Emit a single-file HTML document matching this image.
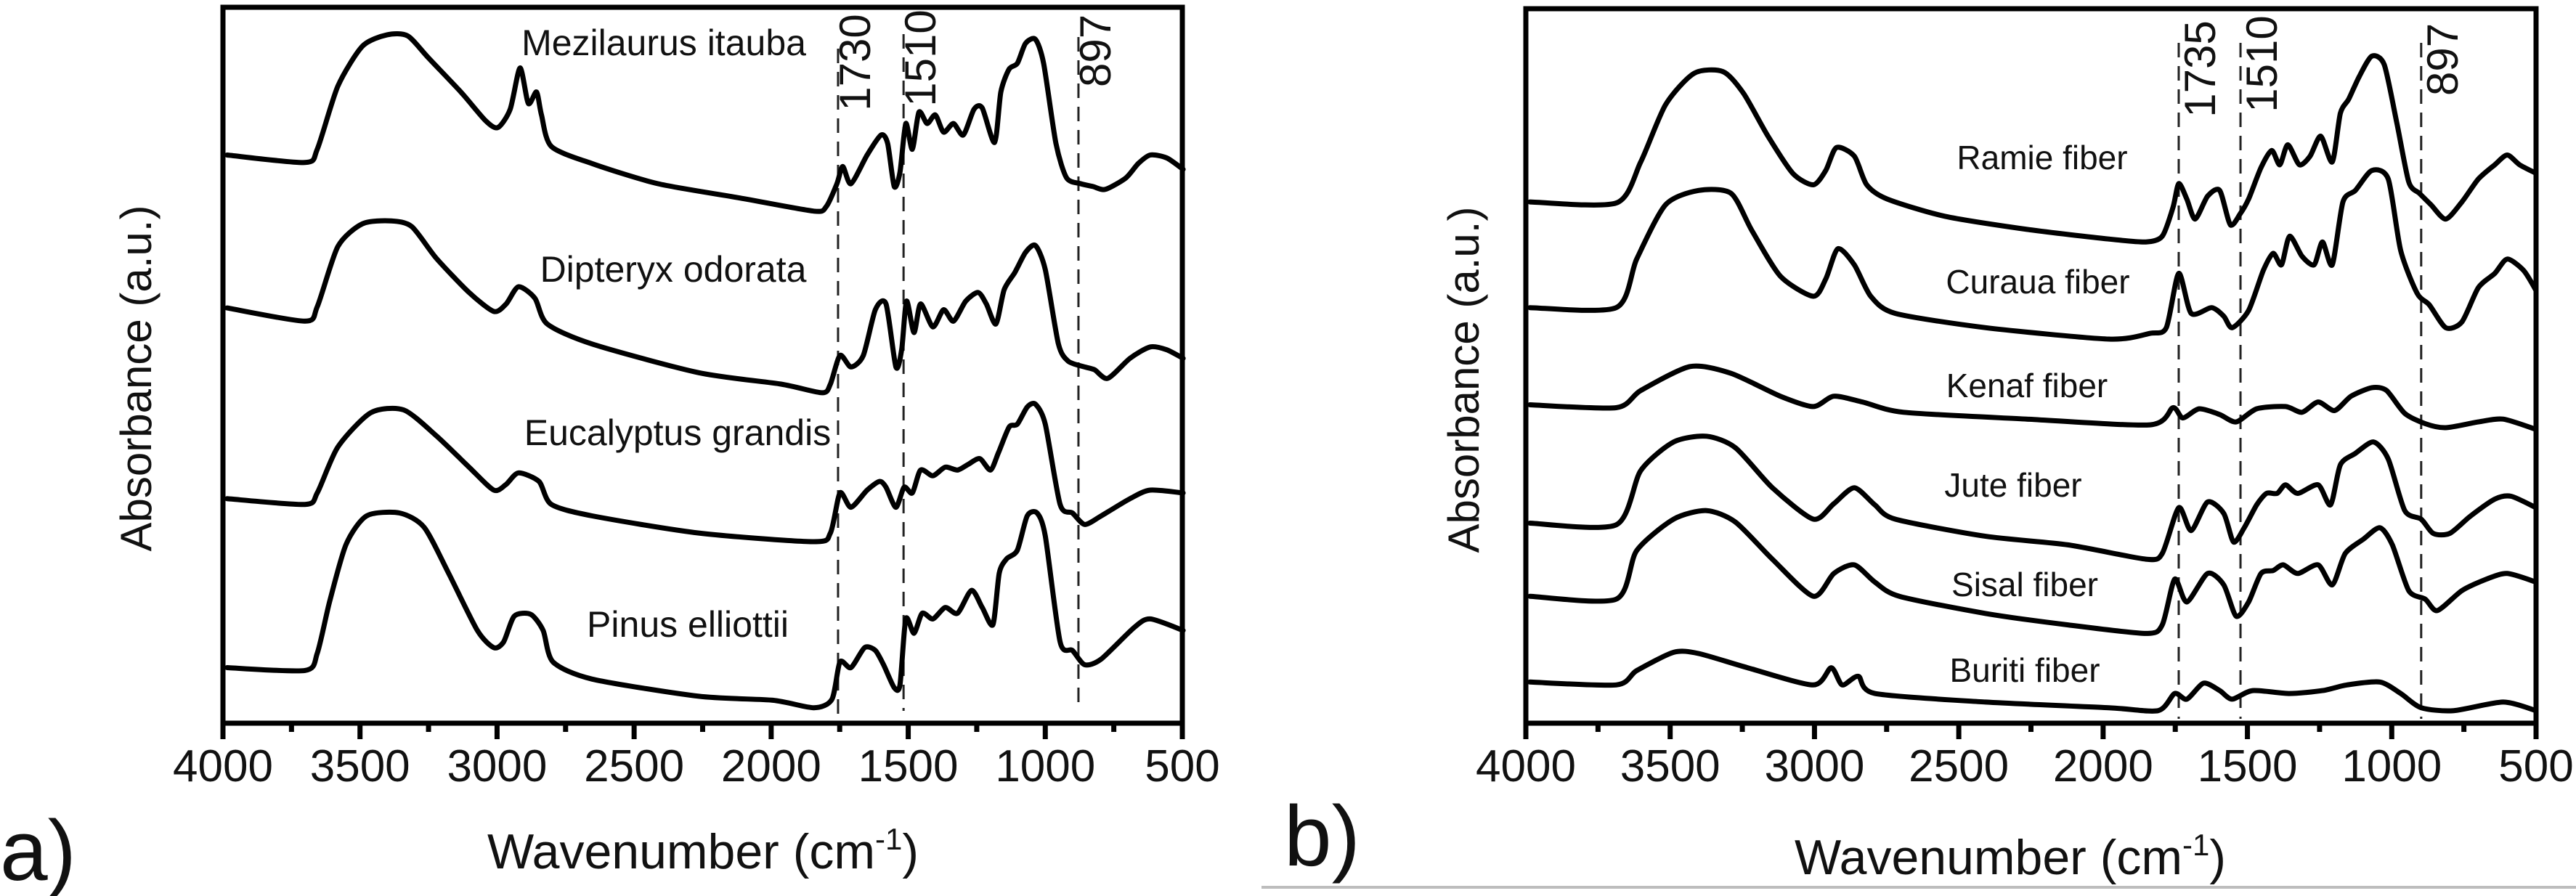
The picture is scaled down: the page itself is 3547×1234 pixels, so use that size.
<!DOCTYPE html>
<html>
<head>
<meta charset="utf-8">
<style>
  html,body{margin:0;padding:0;background:#fff;}
  svg{display:block;}
  text{font-family:"Liberation Sans",Arial,sans-serif;fill:#111;}
</style>
</head>
<body>
<svg id="fig" xmlns="http://www.w3.org/2000/svg" width="3547" height="1234" viewBox="0 0 3547 1234">
  <rect x="0" y="0" width="3547" height="1234" fill="#fff"/>
  <line x1="1737" y1="1222" x2="3547" y2="1222" stroke="#bdbdbd" stroke-width="4"/>
  <text x="0" y="1212" font-size="118">a)</text>
  <text x="1768" y="1192" font-size="118">b)</text>
</svg>
<script>
// ---------- data: wavenumber (cm-1) arrays and absorbance (a.u.) arrays ----------
const xTicks = [4000, 3500, 3000, 2500, 2000, 1500, 1000, 500];
const xTickLabels = ["4000", "3500", "3000", "2500", "2000", "1500", "1000", "500"];

const mezWn = [3985,3701,3656,3581,3491,3401,3326,3251,3132,3042,2997,2952,2916,2886,2856,2838,2802,2653,2413,2114,1844,1799,1760,1739,1709,1650,1599,1575,1551,1530,1509,1485,1461,1431,1401,1371,1335,1299,1260,1230,1185,1162,1132,1102,1072,1036,1006,961,922,871,826,781,706,661,617,557,497];
const mezAbs = [992,979,1002,1112,1182,1202,1200,1162,1102,1052,1040,1072,1144,1082,1102,1062,1007,977,942,917,894,902,942,972,942,992,1027,1012,937,962,1047,1002,1067,1047,1062,1032,1047,1027,1072,1074,1014,1102,1142,1152,1187,1194,1152,1012,952,942,937,932,952,977,992,987,967];

const dipWn = [3985,3701,3656,3581,3491,3386,3311,3222,3102,3012,2967,2922,2862,2817,2653,2264,1964,1814,1784,1749,1709,1664,1620,1581,1545,1524,1506,1479,1455,1410,1371,1335,1290,1245,1215,1180,1150,1111,1072,1036,1000,952,916,856,820,772,691,617,557,497];
const dipAbs = [725,702,727,832,872,877,867,812,752,719,732,762,742,697,662,612,592,577,592,642,622,642,722,732,622,652,737,682,732,692,722,702,737,752,732,697,757,787,822,834,792,662,632,622,617,602,637,657,652,637];

const eucWn = [3985,3701,3656,3581,3461,3341,3222,3102,3012,2967,2922,2847,2802,2653,2264,1844,1784,1749,1709,1650,1605,1581,1545,1515,1485,1455,1410,1365,1320,1281,1239,1200,1171,1132,1102,1066,1036,1000,946,901,856,796,691,617,497];
const eucAbs = [392,382,402,482,542,547,502,447,407,417,437,422,382,362,332,317,332,402,377,407,422,412,377,412,402,442,432,447,442,452,462,442,472,517,522,552,557,522,382,367,347,362,392,407,402];

const pinWn = [3985,3701,3656,3611,3551,3476,3356,3266,3177,3072,3012,2976,2937,2877,2832,2796,2653,2264,1994,1844,1778,1749,1709,1659,1620,1590,1551,1530,1509,1479,1449,1410,1365,1320,1269,1230,1191,1168,1141,1102,1066,1030,1000,946,901,856,796,676,617,497];
const pinAbs = [97,92,122,212,312,362,367,342,262,162,132,142,187,190,162,107,77,47,40,27,42,107,97,132,127,102,62,67,182,157,192,182,202,192,232,202,172,262,287,302,362,367,327,142,127,102,112,167,182,162];

const ramWn = [3986,3687,3602,3516,3417,3317,3246,3161,3075,3004,2961,2924,2862,2819,2748,2549,2264,1980,1852,1795,1758,1738,1710,1681,1638,1596,1559,1524,1496,1453,1416,1388,1360,1320,1283,1246,1206,1178,1149,1112,1069,1026,983,941,904,864,813,757,700,643,600,557,500];
const ramAbs = [912,910,982,1082,1137,1140,1102,1027,962,942,967,1007,992,942,917,887,864,847,842,852,902,944,917,882,922,932,872,892,917,972,1002,977,1012,977,992,1027,982,1067,1092,1132,1167,1152,1052,947,927,907,882,912,952,977,994,977,962];

const curWn = [3986,3687,3616,3516,3402,3289,3217,3118,3004,2961,2919,2862,2805,2720,2407,1980,1837,1781,1738,1695,1624,1582,1553,1496,1445,1411,1382,1354,1311,1269,1240,1206,1169,1126,1069,1012,969,912,870,813,757,700,643,600,543,500];
const curAbs = [727,727,812,907,932,927,862,782,747,777,830,802,747,717,692,672,682,692,787,717,727,712,692,722,792,822,802,852,817,802,842,802,912,932,967,952,827,752,732,692,702,762,787,812,792,757];

const kenWn = [3986,3687,3602,3431,3289,3118,3004,2933,2834,2691,2264,1837,1758,1724,1667,1596,1539,1468,1368,1311,1255,1198,1141,1069,1018,955,884,813,700,614,500];
const kenAbs = [557,552,582,624,612,572,554,572,562,544,532,522,552,534,550,540,527,550,554,544,562,547,572,587,582,542,524,517,527,532,514];

const jutWn = [3986,3687,3602,3488,3374,3274,3146,3004,2933,2862,2791,2720,2407,2122,1852,1795,1738,1695,1638,1582,1548,1511,1468,1434,1397,1368,1326,1255,1212,1178,1126,1063,1012,955,898,856,799,728,643,586,500];
const jutAbs = [350,347,442,492,502,482,412,357,384,412,382,357,327,312,287,297,377,337,387,367,317,342,382,402,402,417,402,417,382,452,472,492,462,372,357,332,332,362,392,397,377];

const sisWn = [3986,3687,3616,3488,3374,3274,3146,3004,2933,2862,2791,2706,2407,2122,1852,1795,1752,1710,1638,1582,1539,1496,1453,1411,1376,1326,1255,1206,1161,1098,1041,998,941,884,842,757,672,600,500];
const sisAbs = [222,217,302,357,372,352,287,222,262,277,247,222,192,172,157,172,252,212,262,242,187,212,262,267,277,262,277,242,297,322,342,312,232,217,197,232,252,262,247];

const burWn = [3986,3687,3616,3488,3402,3232,3004,2942,2904,2848,2791,2407,1980,1809,1752,1710,1652,1596,1553,1482,1354,1240,1155,1041,969,898,785,614,500];
const burAbs = [72,67,92,124,122,97,67,97,67,82,52,37,27,22,52,42,70,57,42,57,52,57,67,72,52,27,22,37,22];

const markerWn = [1756, 1517, 879];
const markerLabelsA = ["1730", "1510", "897"];
const markerWnB = [1738, 1524, 898];
const markerLabelsB = ["1735", "1510", "897"];

// ---------- drawing ----------
const NS = "http://www.w3.org/2000/svg";
const svg = document.getElementById("fig");
function mk(tag, attrs, parent) {
  const e = document.createElementNS(NS, tag);
  for (const k in attrs) e.setAttribute(k, attrs[k]);
  (parent || svg).appendChild(e);
  return e;
}
function smoothPath(P) {
  let d = "M" + P[0][0].toFixed(1) + "," + P[0][1].toFixed(1);
  for (let i = 0; i < P.length - 1; i++) {
    const p0 = P[Math.max(0, i - 1)], p1 = P[i], p2 = P[i + 1], p3 = P[Math.min(P.length - 1, i + 2)];
    const t = 8;
    const c1x = p1[0] + (p2[0] - p0[0]) / t, c1y = p1[1] + (p2[1] - p0[1]) / t;
    const c2x = p2[0] - (p3[0] - p1[0]) / t, c2y = p2[1] - (p3[1] - p1[1]) / t;
    d += " C" + c1x.toFixed(1) + "," + c1y.toFixed(1) + " " + c2x.toFixed(1) + "," + c2y.toFixed(1) + " " + p2[0].toFixed(1) + "," + p2[1].toFixed(1);
  }
  return d;
}

function drawPanel(cfg) {
  const g = mk("g", {});
  
  
  const xs = w => cfg.left + (4000 - w) / 3500 * (cfg.right - cfg.left);
  const ys = v => cfg.bottom - v / 1250 * (cfg.bottom - cfg.top);

  cfg.markers.forEach((m, i) => {
    const ln = mk("line", {x1: xs(m), x2: xs(m), y1: cfg.dashTop[i], y2: cfg.dashBot[i],
      stroke: "#222", "stroke-width": 3, "stroke-dasharray": "20 12"}, g);
    
    
    const t = mk("text", {x: 0, y: 0, "font-size": 60, "text-anchor": "middle",
      transform: "translate(" + (xs(m) + cfg.labOff) + "," + cfg.labY[i] + ") rotate(-90)"}, g);
    t.textContent = cfg.markerLabels[i];
    
    
  });

  cfg.series.forEach(s => {
    const P = s.wn.map((w, i) => [xs(w), ys(s.abs[i])]);
    const pl = mk("path", {d: smoothPath(P), fill: "none", stroke: "#000", "stroke-width": 7,
      "stroke-linejoin": "round", "stroke-linecap": "round"}, g);
    
    
    const t = mk("text", {x: s.lx, y: s.ly, "font-size": cfg.labelSize, "text-anchor": "middle", "dominant-baseline": "middle"}, g);
    t.textContent = s.label;
    
    
  });

  const fr = mk("rect", {x: cfg.left, y: cfg.top, width: cfg.right - cfg.left, height: cfg.bottom - cfg.top,
    fill: "none", stroke: "#000", "stroke-width": 7}, g);
  
  

  for (let w = 4000; w >= 500; w -= 250) {
    const major = (w % 500 === 0);
    const tk = mk("line", {x1: xs(w), x2: xs(w), y1: cfg.bottom, y2: cfg.bottom + (major ? 22 : 12),
      stroke: "#000", "stroke-width": 7}, g);
    
    
  }
  xTicks.forEach((w, i) => {
    const t = mk("text", {x: xs(w), y: cfg.bottom + 80, "font-size": 62, "text-anchor": "middle"}, g);
    t.textContent = xTickLabels[i];
    
    
  });

  const xt = mk("text", {x: cfg.xtX, y: cfg.xtY, "font-size": 68, "text-anchor": "middle"}, g);
  
  
  xt.appendChild(document.createTextNode("Wavenumber (cm"));
  const sup = mk("tspan", {"font-size": 42, dy: -26}, xt);
  sup.textContent = "-1";
  const cl = mk("tspan", {dy: 26}, xt);
  cl.textContent = ")";

  const yt = mk("text", {x: 0, y: 0, "font-size": 60, "text-anchor": "middle",
    transform: "translate(" + cfg.ytX + "," + cfg.ytY + ") rotate(-90)"}, g);
  yt.textContent = "Absorbance (a.u.)";
  
  
}

drawPanel({
  name: "panel-a", left: 307, right: 1628, top: 10, bottom: 996, labelSize: 50,
  markers: markerWn, markerLabels: markerLabelsA,
  dashTop: [67, 47, 51], dashBot: [990, 979, 979], labY: [86, 80, 70], labOff: 44,
  xtX: 968, xtY: 1196, ytX: 208, ytY: 521,
  series: [
    {id: "mezilaurus", wn: mezWn, abs: mezAbs, label: "Mezilaurus itauba", lx: 914, ly: 63},
    {id: "dipteryx", wn: dipWn, abs: dipAbs, label: "Dipteryx odorata", lx: 927, ly: 375},
    {id: "eucalyptus", wn: eucWn, abs: eucAbs, label: "Eucalyptus grandis", lx: 933, ly: 600},
    {id: "pinus", wn: pinWn, abs: pinAbs, label: "Pinus elliottii", lx: 947, ly: 864}
  ]
});

drawPanel({
  name: "panel-b", left: 2101, right: 3492, top: 12, bottom: 996, labelSize: 46,
  markers: markerWnB, markerLabels: markerLabelsB,
  dashTop: [59, 59, 59], dashBot: [990, 990, 990], labY: [95, 88, 82], labOff: 50,
  xtX: 2768, xtY: 1204, ytX: 2036, ytY: 523,
  series: [
    {id: "ramie", wn: ramWn, abs: ramAbs, label: "Ramie fiber", lx: 2812, ly: 221},
    {id: "curaua", wn: curWn, abs: curAbs, label: "Curaua fiber", lx: 2806, ly: 392},
    {id: "kenaf", wn: kenWn, abs: kenAbs, label: "Kenaf fiber", lx: 2791, ly: 535},
    {id: "jute", wn: jutWn, abs: jutAbs, label: "Jute fiber", lx: 2772, ly: 672},
    {id: "sisal", wn: sisWn, abs: sisAbs, label: "Sisal fiber", lx: 2788, ly: 809},
    {id: "buriti", wn: burWn, abs: burAbs, label: "Buriti fiber", lx: 2788, ly: 927}
  ]
});
</script>
</body>
</html>
